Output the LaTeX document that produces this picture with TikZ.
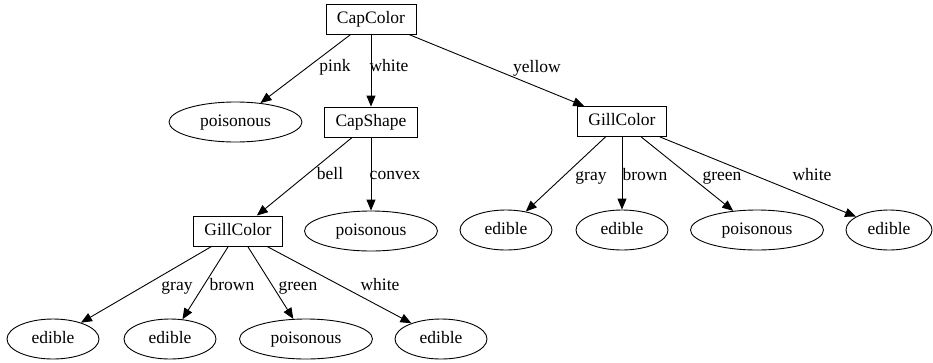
\documentclass[tikz,border=0pt]{standalone}
\usepackage{fontspec}
\setmainfont{Liberation Serif}
\usetikzlibrary{arrows.meta,shapes.geometric}
\begin{document}
\begin{tikzpicture}[x=1pt,y=-1pt,
  every node/.style={font=\fontsize{17.5}{20}\selectfont,text height=11.5pt,text depth=3.5pt},
  boxnode/.style={draw,line width=0.9pt,rectangle,inner xsep=11pt,inner ysep=0pt,minimum height=30pt},
  leaf/.style={draw,line width=0.9pt,ellipse,inner sep=0pt,minimum height=40pt},
  poi/.style={leaf,minimum width=133pt},
  edi/.style={leaf,minimum width=92pt},
  lbl/.style={inner sep=0pt},
  conn/.style={line width=0.9pt,-{Triangle[length=11pt,width=9pt]}}]
\useasboundingbox (0,0) rectangle (933,362);
% nodes
\node[boxnode] (cc) at (371,19) {CapColor};
\node[poi] (p1) at (235.5,122) {poisonous};
\node[boxnode] (cs) at (371,122) {CapShape};
\node[boxnode] (gr) at (622,121.5) {GillColor};
\node[boxnode] (gl) at (238,231) {GillColor};
\node[poi] (p2) at (371,231) {poisonous};
\node[edi] (e1) at (506,230) {edible};
\node[edi] (e2) at (622,230) {edible};
\node[poi] (p3) at (757,230) {poisonous};
\node[edi,minimum width=86pt] (e3) at (889,230) {edible};
\node[edi] (e4) at (53,339) {edible};
\node[edi] (e5) at (170,339) {edible};
\node[poi] (p4) at (306,339) {poisonous};
\node[edi] (e6) at (441,339) {edible};
% edges
\draw[conn] (cc) -- (p1);
\draw[conn] (cc) -- (cs);
\draw[conn] (cc) -- (gr);
\draw[conn] (cs) -- (gl);
\draw[conn] (cs) -- (p2);
\draw[conn] (gr) -- (e1);
\draw[conn] (gr) -- (e2);
\draw[conn] (gr) -- (p3);
\draw[conn] (gr) -- (e3);
\draw[conn] (gl) -- (e4);
\draw[conn] (gl) -- (e5);
\draw[conn] (gl) -- (p4);
\draw[conn] (gl) -- (e6);
% labels
\node[lbl] (l1) at (335,67) {pink};
\node[lbl] (l2) at (389,67) {white};
\node[lbl] (l3) at (537,68) {yellow};
\node[lbl] (l4) at (330,175) {bell};
\node[lbl] (l5) at (395,175) {convex};
\node[lbl] (l6) at (591,176) {gray};
\node[lbl] (l7) at (645,176) {brown};
\node[lbl] (l8) at (722,176) {green};
\node[lbl] (l9) at (812,176) {white};
\node[lbl] (l10) at (177,286) {gray};
\node[lbl] (l11) at (232,286) {brown};
\node[lbl] (l12) at (298,286) {green};
\node[lbl] (l13) at (380,286) {white};
\end{tikzpicture}
\end{document}
